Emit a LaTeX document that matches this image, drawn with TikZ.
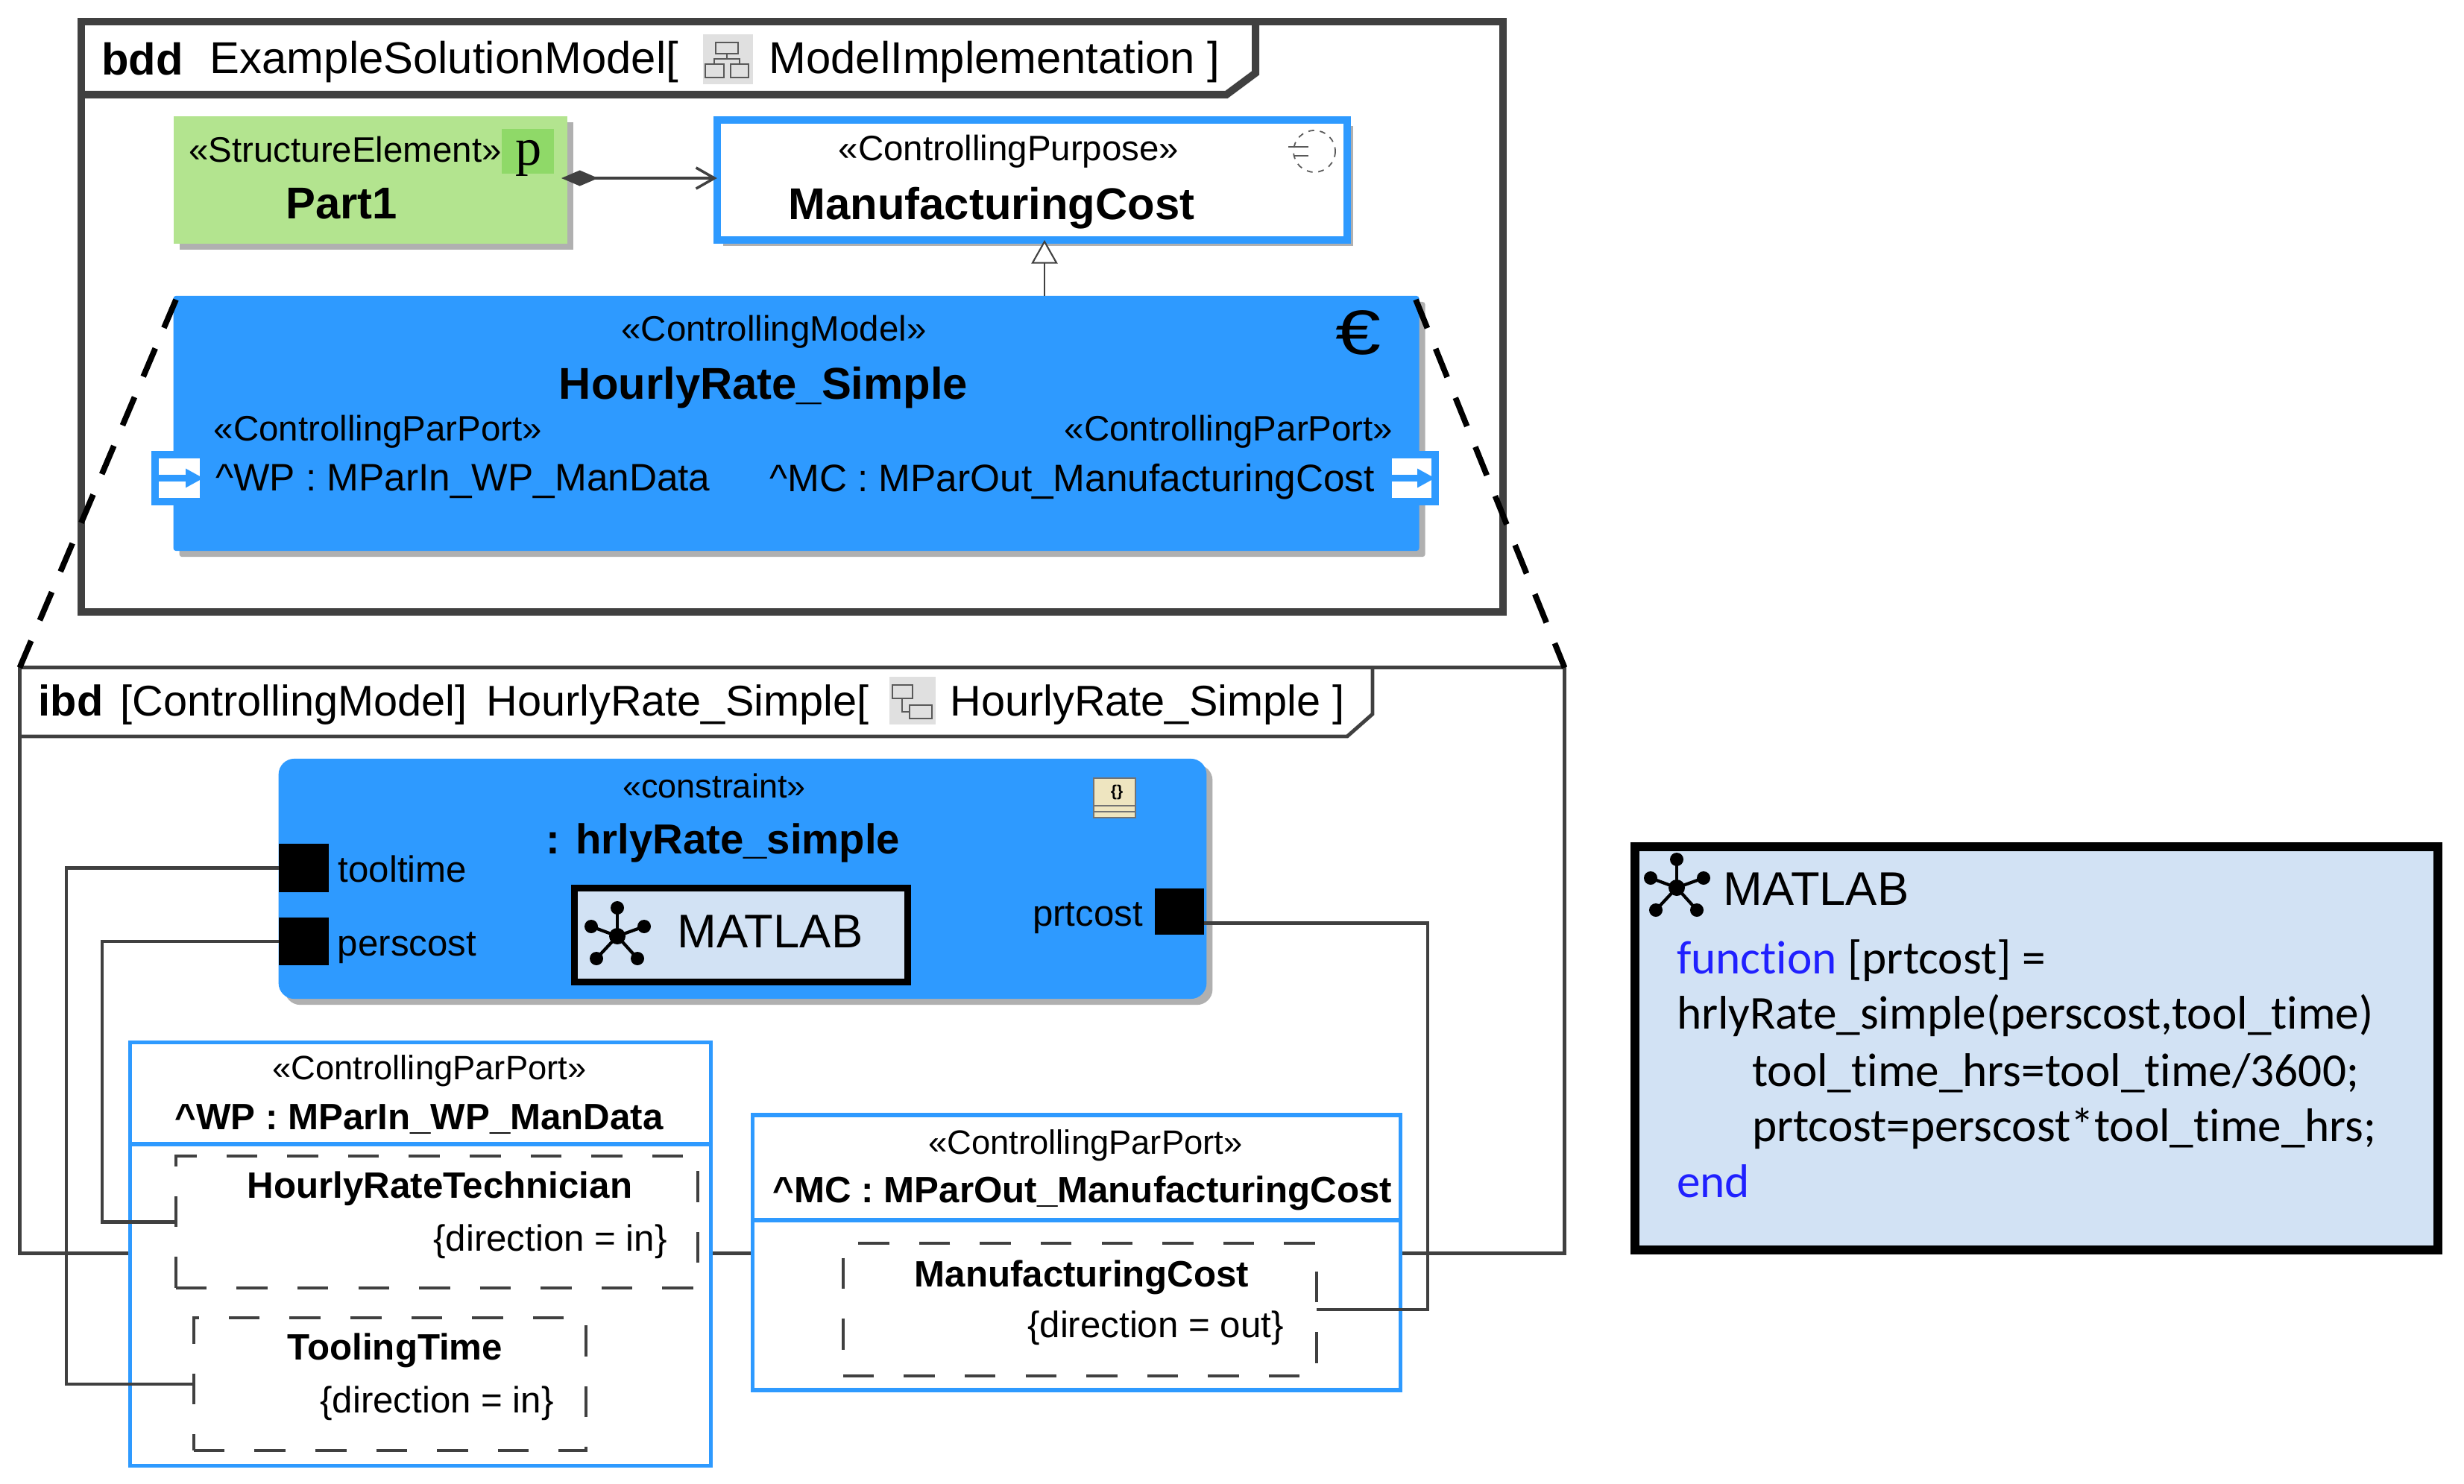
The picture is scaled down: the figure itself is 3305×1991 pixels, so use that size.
\documentclass[tikz,border=0pt]{standalone}
\usepackage{fontspec}
\setmainfont{Liberation Sans}
\newfontfamily\codefont[Ligatures=NoCommon]{Carlito}
\newfontfamily\glyphfont{Liberation Serif}
\usetikzlibrary{arrows.meta, shadows}

\definecolor{umlblue}{HTML}{2E9AFF}
\definecolor{partgreen}{HTML}{B3E48F}
\definecolor{pgreen}{HTML}{8FD968}
\definecolor{notefill}{HTML}{D2E2F4}
\definecolor{framegray}{HTML}{404040}
\definecolor{shadowgray}{HTML}{B0B0B0}
\definecolor{iconbeige}{HTML}{EEE5C0}
\definecolor{codeblue}{HTML}{2020FF}

\tikzset{
  anybox/.style = {rectangle, inner sep = 0pt, outer sep = 0pt},
  boxshadow/.style = {general shadow = {fill = shadowgray, shadow xshift = 2.3pt, shadow yshift = -2.3pt}},
  framebox/.style = {anybox, draw = framegray},
  blockbox/.style = {anybox, boxshadow, fill = umlblue, rounded corners = 1pt},
  parportbox/.style = {anybox, draw = umlblue, line width = 1.5pt, fill = white},
  valuebox/.style = {anybox, draw = framegray, line width = 1pt, dash pattern = on 11.8pt off 11.4pt},
  portsquare/.style = {anybox, fill = black},
  flowport/.style = {anybox, draw = umlblue, line width = 2.85pt, fill = white},
  flowline/.style = {umlblue, line width = 2.3pt, -{Triangle[length = 6.8pt, width = 6.8pt]}},
  wire/.style = {framegray, line width = 1.4pt},
  zoomline/.style = {black, line width = 2.2pt, dash pattern = on 11.7pt off 8.5pt},
  txt/.style = {inner sep = 0pt, outer sep = 0pt, font = \fontsize{13.5pt}{16pt}\selectfont},
  headtxt/.style = {txt, font = \fontsize{17pt}{20pt}\selectfont\bfseries},
  tabtxt/.style = {txt, font = \fontsize{17pt}{20pt}\selectfont},
  ibdtxt/.style = {txt, font = \fontsize{16.4pt}{20pt}\selectfont},
  flowtxt/.style = {txt, font = \fontsize{14.6pt}{18pt}\selectfont},
  smalltxt/.style = {txt, font = \fontsize{14pt}{17pt}\selectfont},
  smallbold/.style = {txt, font = \fontsize{14pt}{17pt}\selectfont\bfseries},
  codetxt/.style = {inner sep = 0pt, outer sep = 0pt, anchor = base west, font = \codefont\fontsize{18pt}{22pt}\selectfont},
  netstar/.pic = {
    \foreach \px/\py in {0/-38, -35/-13, 36/-13, -28/30, 27/30} {
      \draw[line width = 1.2pt] (0,0) -- (\px,\py);
      \fill (\px,\py) circle (9);
    }
    \fill (0,0) circle (11);
  }
}

\begin{document}
\begin{tikzpicture}[x = 0.01cm, y = -0.01cm]
\useasboundingbox (0,0) rectangle (3305,1991);

% upper frame
\node[framebox, line width = 2.85pt, minimum width = 19.05cm, minimum height = 7.92cm] at(1062.5,425) (bddframe) {};
\draw[framegray, line width = 2.85pt] (bddframe.north west |- 0,127) -- (1645,127) -- (1684,98) -- (1684,29);
\node[txt, font = \fontsize{17pt}{20pt}\selectfont\bfseries] at(191,79) (bddkind) {bdd};
\node[tabtxt] at(596,83) (bddname) {ExampleSolutionModel[};
\fill[black!12] (943,46) rectangle (1010,113);
\draw[black!65, line width = 0.5pt] (960,57) rectangle (990,72) (975,72) -- (975,79) (958,86) -- (958,79) -- (992,79) -- (992,86) (946,86) rectangle (971,104) (980,86) rectangle (1004,104);
\node[tabtxt] at(1334,83) (bddview) {ModelImplementation ]};

% part and purpose
\node[anybox, boxshadow, fill = partgreen, minimum width = 5.28cm, minimum height = 1.71cm] at(497,241.5) (part1) {};
\fill[pgreen] (673,173) rectangle (743,233);
\node[txt, font = \glyphfont\fontsize{20pt}{22pt}\selectfont] at(709,212) (partglyph) {p};
\node[txt] at(463,201) (partstereo) {«StructureElement»};
\node[headtxt] at(458,273) (partname) {Part1};
\node[anybox, boxshadow, draw = umlblue, line width = 2.85pt, fill = white, minimum width = 8.45cm, minimum height = 1.61cm] at(1384.5,241.5) (purpose) {};
\node[txt] at(1353,203) (purposestereo) {«ControllingPurpose»};
\node[headtxt] at(1330,279) (purposename) {ManufacturingCost};
\draw[black!65, line width = 0.5pt, dash pattern = on 2.2pt off 2.2pt] (1763,203) circle (28);
\draw[black!65, line width = 0.6pt] (1728,197) -- (1755,197) (1735,209) -- (1755,209);

% model block
\node[blockbox, minimum width = 16.7cm, minimum height = 3.42cm] at(1068,568) (model) {};
\node[txt] at(1038,445) (modelstereo) {«ControllingModel»};
\node[headtxt] at(1024,520) (modelname) {HourlyRate\_Simple};
\node[txt, font = \fontsize{24pt}{26pt}\selectfont] at(1822,446) (modeleuro) {\scalebox{1.3}[1]{€}};
\node[txt] at(507,579) (wpstereo) {«ControllingParPort»};
\node[txt] at(1648,579) (mcstereo) {«ControllingParPort»};
\node[flowtxt] at(621,646) (wpflowname) {\textasciicircum WP : MParIn\_WP\_ManData};
\node[flowtxt] at(1438,646) (mcflowname) {\textasciicircum MC : MParOut\_ManufacturingCost};
\node[flowport, minimum width = 0.65cm, minimum height = 0.63cm] at(240.5,641.5) (wpflow) {};
\draw[flowline] (wpflow.west) -- (wpflow.east);
\node[flowport, minimum width = 0.63cm, minimum height = 0.63cm] at(1893.5,641.5) (mcflow) {};
\draw[flowline] (mcflow.west) -- (mcflow.east);

% upper connectors
\draw[framegray, line width = 1pt, {Diamond[length = 14pt, width = 6pt]}-{Straight Barb[length = 7pt, width = 8pt]}] ([xshift = -2.3pt, yshift = 0.7pt]part1.east) -- ([yshift = 0.7pt]purpose.west);
\coordinate (genpoint) at(1401,322);
\draw[framegray, line width = 0.6pt, -{Triangle[open, fill = white, length = 9pt, width = 10pt]}] (model.north -| genpoint) -- (genpoint);

% lower frame
\node[framebox, line width = 1.4pt, minimum width = 20.71cm, minimum height = 7.85cm] at(1062.5,1288.5) (ibdframe) {};
\draw[framegray, line width = 1.4pt] (ibdframe.north west |- 0,988) -- (1807,988) -- (1841,958) -- (1841,896);
\node[ibdtxt, font = \fontsize{16.4pt}{20pt}\selectfont\bfseries] at(95,940) (ibdkind) {ibd};
\node[ibdtxt] at(394,946) (ibdstereo) {[ControllingModel]};
\node[ibdtxt] at(909,946) (ibdname) {HourlyRate\_Simple[};
\fill[black!12] (1193,908) rectangle (1255,972);
\draw[black!65, line width = 0.5pt] (1197,919) rectangle (1224,937) (1210,937) -- (1210,955) -- (1220,955) (1220,946) rectangle (1250,964);
\node[ibdtxt] at(1539,946) (ibdview) {HourlyRate\_Simple ]};

% constraint block
\node[blockbox, rounded corners = 6pt, minimum width = 12.44cm, minimum height = 3.22cm] at(996,1179) (constraint) {};
\node[txt, font = \fontsize{12.8pt}{16pt}\selectfont] at(958,1054) (constraintstereo) {«constraint»};
\node[txt, font = \fontsize{16pt}{20pt}\selectfont\bfseries] at(970,1131) (constraintname) {: hrlyRate\_simple};
\draw[black!55, fill = iconbeige, line width = 0.5pt] (1467,1044) rectangle (1523,1097);
\draw[black!55, line width = 0.7pt] (1467,1081) -- (1523,1081) (1467,1089) -- (1523,1089);
\node[txt, font = \fontsize{6pt}{7pt}\selectfont\bfseries] at(1498,1063) (constrainticon) {\{\}};
\node[portsquare, minimum width = 0.67cm, minimum height = 0.65cm] at(407.5,1164.5) (tooltimeport) {};
\node[portsquare, minimum width = 0.67cm, minimum height = 0.64cm] at(407.5,1263) (perscostport) {};
\node[portsquare, minimum width = 0.66cm, minimum height = 0.62cm] at(1582,1223) (prtcostport) {};
\node[smalltxt] at(540,1166) (tooltimename) {tooltime};
\node[smalltxt] at(546,1272) (perscostname) {perscost};
\node[smalltxt] at(1459,1232) (prtcostname) {prtcost};
\node[anybox, draw = black, line width = 2.56pt, fill = notefill, minimum width = 4.46cm, minimum height = 1.25cm] at(994,1254.5) (matlabbox) {};
\pic at(828,1256) {netstar};
\node[txt, font = \fontsize{18pt}{22pt}\selectfont] at(1033,1250) (matlabname) {MATLAB};

% parameter ports
\node[parportbox, minimum width = 7.78cm, minimum height = 5.67cm] at(564,1682.5) (wpport) {};
\draw[umlblue, line width = 1.8pt] (wpport.west |- 0,1535) -- (wpport.east |- 0,1535);
\node[smalltxt, font = \fontsize{12.9pt}{16pt}\selectfont] at(576,1437) (wpportstereo) {«ControllingParPort»};
\node[smallbold] at(562,1502) (wpportname) {\textasciicircum WP : MParIn\_WP\_ManData};
\node[valuebox, minimum width = 7cm, minimum height = 1.77cm] at(586,1639.5) (hourlybox) {};
\node[smallbold] at(590,1595) (hourlyname) {HourlyRateTechnician};
\node[smalltxt] at(738,1666) (hourlydir) {\{direction = in\}};
\node[valuebox, minimum width = 5.26cm, minimum height = 1.78cm] at(523,1857) (toolingbox) {};
\node[smallbold] at(530,1812) (toolingname) {ToolingTime};
\node[smalltxt] at(586,1883) (toolingdir) {\{direction = in\}};
\node[parportbox, minimum width = 8.68cm, minimum height = 3.69cm] at(1444,1680.5) (mcport) {};
\draw[umlblue, line width = 1.8pt] (mcport.west |- 0,1637) -- (mcport.east |- 0,1637);
\node[smalltxt, font = \fontsize{12.9pt}{16pt}\selectfont] at(1456,1537) (mcportstereo) {«ControllingParPort»};
\node[smallbold] at(1452,1601) (mcportname) {\textasciicircum MC : MParOut\_ManufacturingCost};
\node[valuebox, minimum width = 6.35cm, minimum height = 1.78cm] at(1448.5,1757) (mcbox) {};
\node[smallbold] at(1451,1714) (mcname) {ManufacturingCost};
\node[smalltxt] at(1550,1782) (mcdir) {\{direction = out\}};

% wires
\coordinate (tooltrack) at(89,0);
\coordinate (perstrack) at(137,0);
\coordinate (prttrack) at(1915,0);
\draw[wire] (tooltimeport.west) -- (tooltimeport.west -| tooltrack) |- (toolingbox.west);
\draw[wire] (perscostport.west) -- (perscostport.west -| perstrack) |- (hourlybox.west);
\draw[wire] ([yshift = -4.3pt]prtcostport.east) -- ([yshift = -4.3pt]prtcostport.east -| prttrack) |- (mcbox.east);

% zoom lines
\draw[zoomline] (236,402) -- (ibdframe.north west);
\draw[zoomline] (1899,402) -- (ibdframe.north east);

% code note
\node[anybox, draw = black, line width = 3.4pt, fill = notefill, minimum width = 10.77cm, minimum height = 5.41cm] at(2731.5,1406.5) (matlabnote) {};
\pic at(2249,1191) {netstar};
\node[txt, font = \fontsize{18pt}{22pt}\selectfont] at(2436,1193) (notename) {MATLAB};
\node[codetxt] at(2249,1306) (codeone) {\textcolor{codeblue}{function} [prtcost] =};
\node[codetxt] at(2249,1380) (codetwo) {hrlyRate\_simple(perscost,tool\_time)};
\node[codetxt] at(2350,1457) (codethree) {tool\_time\_hrs=tool\_time/3600;};
\node[codetxt] at(2350,1531) (codefour) {prtcost=perscost*tool\_time\_hrs;};
\node[codetxt] at(2249,1606) (codefive) {\textcolor{codeblue}{end}};
\end{tikzpicture}
\end{document}
